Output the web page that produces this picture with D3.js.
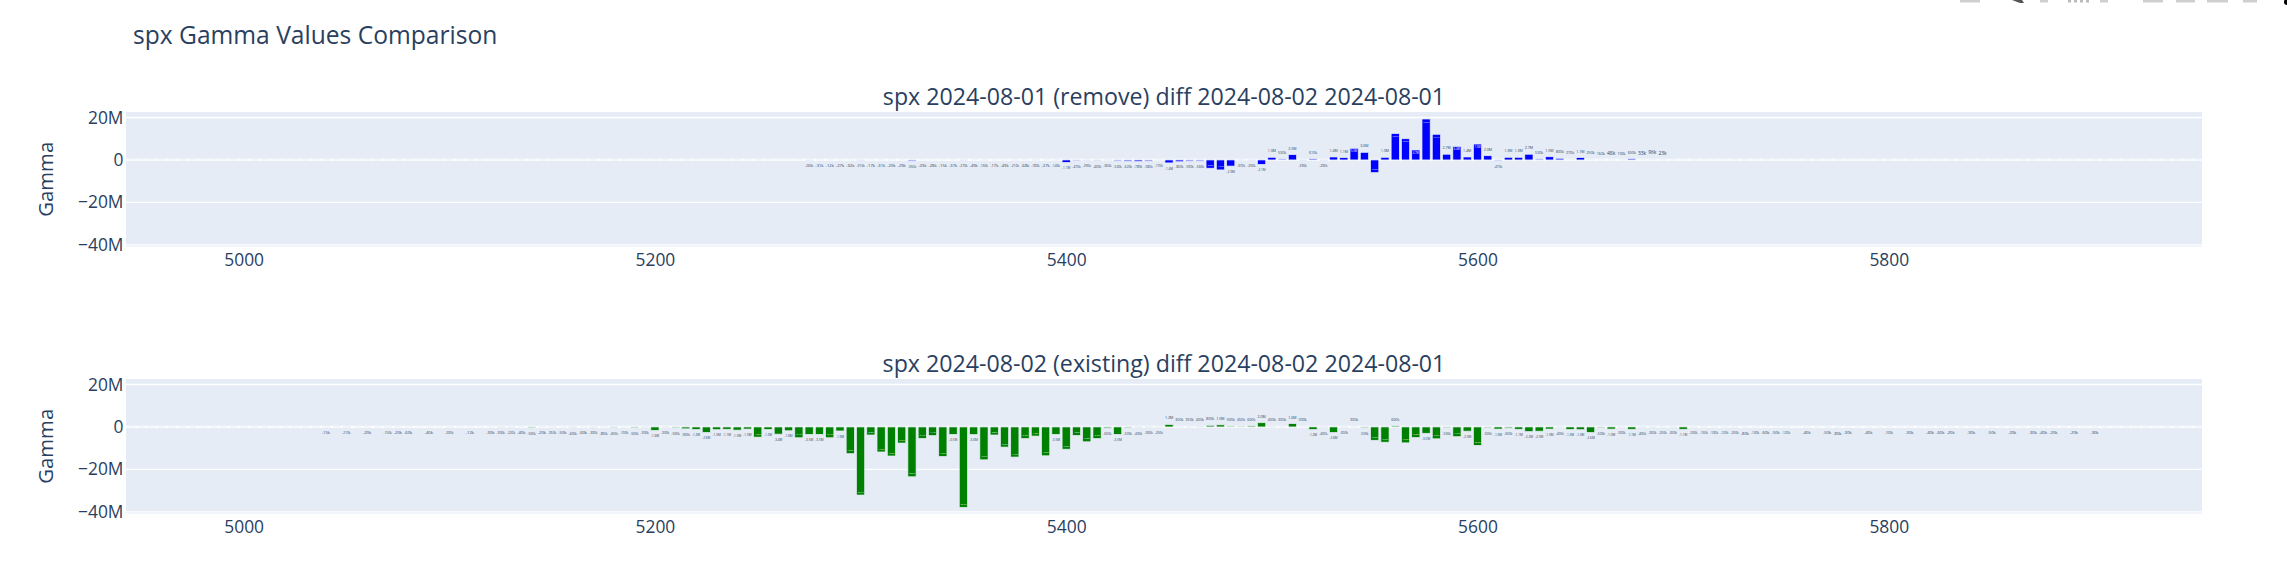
<!DOCTYPE html>
<html><head><meta charset="utf-8">
<script src="https://cdn.jsdelivr.net/npm/d3@7/dist/d3.min.js"></script>
<style>html,body{margin:0;padding:0;background:#fff;}svg{display:block;}</style>
</head><body>
<svg id="chart" width="2287" height="575"></svg>
<script>
// ---------------- DATA (gamma values in millions) ----------------
const mainTitle = "spx Gamma Values Comparison";
const subTitles = ["spx 2024-08-01 (remove) diff 2024-08-02 2024-08-01",
                   "spx 2024-08-02 (existing) diff 2024-08-02 2024-08-01"];
const yAxisTitle = "Gamma";
const xTickValues = [5000, 5200, 5400, 5600, 5800];
const yTickValues = [20, 0, -20, -40];
const yTickLabels = ["20M", "0", "\u221220M", "\u221240M"];

const topStrikes = [5275,5280,5285,5290,5295,5300,5305,5310,5315,5320,
  5325,5330,5335,5340,5345,5350,5355,5360,5365,5370,
  5375,5380,5385,5390,5395,5400,5405,5410,5415,5420,
  5425,5430,5435,5440,5445,5450,5455,5460,5465,5470,
  5475,5480,5485,5490,5495,5500,5505,5510,5515,5520,
  5525,5530,5535,5540,5545,5550,5555,5560,5565,5570,
  5575,5580,5585,5590,5595,5600,5605,5610,5615,5620,
  5625,5630,5635,5640,5645,5650,5655,5660,5665,5670,
  5675,5680,5685,5690];
const topGamma = [-0.26,-0.031,-0.012,-0.027,-0.032,-0.31,-0.017,-0.031,-0.020,-0.029,
  -0.55,-0.023,-0.028,-0.015,-0.037,-0.27,-0.049,-0.16,-0.017,-0.049,
  -0.21,-0.068,-0.18,-0.027,-0.14,-1.15,-0.47,-0.29,-0.43,-0.36,
  -0.53,-0.62,-0.78,-0.58,-0.17,-1.4,-0.86,-0.59,-0.56,-3.9,
  -4.7,-2.9,-0.37,-0.29,-2.1,1.25,0.53,2.5,-0.39,0.61,
  -0.29,1.4,1.1,5.5,3.6,-6.0,1.25,12.5,10.0,4.7,
  19.3,12.1,2.7,6.4,1.4,7.5,2.0,-0.47,1.25,1.25,
  2.7,0.53,1.5,0.8,0.27,1.1,0.25,0.16,0.048,0.1,
  0.65,0.033,0.096,0.023];

const bottomStrikes = [5040,5050,5060,5070,5075,5080,5090,5100,5110,5120,
  5125,5130,5135,5140,5145,5150,5155,5160,5165,5170,
  5175,5180,5185,5190,5195,5200,5205,5210,5215,5220,
  5225,5230,5235,5240,5245,5250,5255,5260,5265,5270,
  5275,5280,5285,5290,5295,5300,5305,5310,5315,5320,
  5325,5330,5335,5340,5345,5350,5355,5360,5365,5370,
  5375,5380,5385,5390,5395,5400,5405,5410,5415,5420,
  5425,5430,5435,5440,5445,5450,5455,5460,5465,5470,
  5475,5480,5485,5490,5495,5500,5505,5510,5515,5520,
  5525,5530,5535,5540,5545,5550,5555,5560,5565,5570,
  5575,5580,5585,5590,5595,5600,5605,5610,5615,5620,
  5625,5630,5635,5640,5645,5650,5655,5660,5665,5670,
  5675,5680,5685,5690,5695,5700,5705,5710,5715,5720,
  5725,5730,5735,5740,5745,5750,5760,5770,5775,5780,
  5790,5800,5810,5820,5825,5830,5840,5850,5860,5870,
  5875,5880,5890,5900];
const bottomGamma = [-0.015,-0.21,-0.02,-0.15,-0.02,-0.06,-0.04,-0.2,-0.012,-0.03,
  -0.3,-0.22,-0.04,-0.5,-0.02,-0.35,-0.05,-0.4,-0.06,-0.3,
  -0.08,-0.45,-0.1,-0.5,-0.3,-1.6,-0.3,-0.5,-0.9,-1.2,
  -2.6,-1.3,-1.1,-1.5,-1.0,-4.8,-1.2,-3.4,-1.8,-5.1,
  -3.5,-3.5,-5.1,-1.9,-12.6,-32.1,-3.8,-11.8,-13.7,-7.6,
  -23.5,-5.4,-4.1,-13.9,-3.5,-37.9,-3.6,-15.5,-3.8,-9.5,
  -14.2,-5.5,-4.3,-13.6,-3.5,-10.5,-4.0,-7.0,-5.5,-0.6,
  -3.5,-0.5,-0.4,-0.3,-0.25,1.2,0.3,0.35,0.4,0.8,
  1.0,0.5,0.45,0.6,2.0,0.4,0.3,1.6,0.3,-1.2,
  -0.4,-2.6,-0.3,0.3,-0.5,-6.3,-7.2,0.6,-7.5,-5.0,
  -3.0,-5.6,-0.5,-4.6,-2.0,-8.7,-0.5,-1.0,-0.6,-1.1,
  -2.2,-2.0,-1.0,-0.4,-1.2,-1.3,-2.6,-0.5,-1.0,-0.3,
  -1.1,-0.4,-0.3,-0.2,-0.3,-1.1,-0.2,-0.15,-0.1,-0.12,
  -0.2,-0.08,-0.1,-0.06,-0.05,-0.12,-0.04,-0.05,-0.08,-0.03,
  -0.04,-0.1,-0.03,-0.04,-0.06,-0.02,-0.03,-0.05,-0.02,-0.03,
  -0.04,-0.02,-0.02,-0.03];

const barColors = ["#0000ff", "#008000"];

// ---------------- LAYOUT ----------------
const FONT = '"Open Sans", verdana, arial, sans-serif';
const TXT = "#2a3f5f";
const BG = "#E5ECF6";
const plotLeft = 126, plotRight = 2202, panelH = 134.5;
const panelTops = [112, 379];
const xDomain = [4942.8, 5952.3];
const yDomain = [-40.8, 22.6];
const strikeStep = 5;

const svg = d3.select("#chart");
svg.append("rect").attr("width", 2287).attr("height", 575).attr("fill", "#fff");

// modebar remnants (top right, clipped by page edge)
const mb = svg.append("g").attr("fill", "#cfcfcf");
[[1960,20],[2040,8],[2100,8],[2143,20],[2176,19],[2207,21],[2243,14]].forEach(([x,w]) =>
  mb.append("rect").attr("x", x).attr("y", 0).attr("width", w).attr("height", 2.5));
mb.append("path").attr("d", "M2012,0 L2022,0 L2024,3 L2020,3 Z").attr("fill", "#555");
[2068,2074,2080,2086].forEach(x => mb.append("rect").attr("x", x).attr("y", 0).attr("width", 3).attr("height", 2.5).attr("fill", "#bbb"));
svg.append("circle").attr("cx", 2287).attr("cy", 2).attr("r", 3).attr("fill", "#000");

// main title
svg.append("text").attr("x", 133).attr("y", 44).attr("font-family", FONT).attr("font-size", 24.6)
  .attr("fill", TXT).text(mainTitle);

const x = d3.scaleLinear().domain(xDomain).range([plotLeft, plotRight]);
const kx = x(1) - x(0);
const bw = strikeStep * 0.8 * kx;

function fmt(v) {
  const a = Math.abs(v);
  if (a >= 1) return v.toFixed(1) + "M";
  return Math.round(v * 1000) + "k";
}

const panels = [
  {strikes: topStrikes, values: topGamma},
  {strikes: bottomStrikes, values: bottomGamma}
];

panels.forEach((p, i) => {
  const y0 = panelTops[i];
  const y = d3.scaleLinear().domain(yDomain).range([y0 + panelH, y0]);
  const g = svg.append("g");

  g.append("rect").attr("x", plotLeft).attr("y", y0).attr("width", plotRight - plotLeft)
    .attr("height", panelH).attr("fill", BG);

  // gridlines
  yTickValues.filter(v => v !== 0).forEach(v => {
    g.append("line").attr("x1", plotLeft).attr("x2", plotRight).attr("y1", y(v)).attr("y2", y(v))
      .attr("stroke", "#fff").attr("stroke-width", 1.3);
  });
  // zero line
  g.append("line").attr("x1", plotLeft).attr("x2", plotRight).attr("y1", y(0)).attr("y2", y(0))
    .attr("stroke", "#fff").attr("stroke-width", 2.2);
  const slotStart = x(xDomain[0] + strikeStep * 0.1);
  g.append("line").attr("x1", slotStart).attr("x2", plotRight).attr("y1", y(0)).attr("y2", y(0))
    .attr("stroke", BG).attr("stroke-width", 0.9).attr("stroke-opacity", 0.85)
    .attr("stroke-dasharray", `${bw.toFixed(3)} ${(strikeStep * 0.2 * kx).toFixed(3)}`);

  // axes
  const xAxis = d3.axisBottom(x).tickValues(xTickValues).tickSize(0).tickPadding(7).tickFormat(d3.format("d"));
  const xg = g.append("g").attr("transform", `translate(0,${y0 + panelH})`).call(xAxis);
  xg.select(".domain").remove();
  xg.selectAll("text").attr("font-family", FONT).attr("font-size", 17.4).attr("fill", TXT);

  const yAxis = d3.axisLeft(y).tickValues(yTickValues).tickSize(0).tickPadding(2.5)
    .tickFormat((d, j) => yTickLabels[j]);
  const yg = g.append("g").attr("transform", `translate(${plotLeft},0)`).call(yAxis);
  yg.select(".domain").remove();
  yg.selectAll("text").attr("font-family", FONT).attr("font-size", 17.4).attr("fill", TXT);

  // axis title
  g.append("text").attr("transform", `translate(52.5,${y0 + panelH / 2}) rotate(-90)`)
    .attr("text-anchor", "middle").attr("font-family", FONT).attr("font-size", 20.3)
    .attr("fill", TXT).text(yAxisTitle);

  // subplot title
  g.append("text").attr("x", (plotLeft + plotRight) / 2).attr("y", y0 - 7)
    .attr("text-anchor", "middle").attr("font-family", FONT).attr("font-size", 23.2)
    .attr("fill", TXT).text(subTitles[i]);

  // bars
  const data = p.strikes.map((s, j) => ({s, v: p.values[j]}));
  const bars = g.append("g").attr("clip-path", null);
  bars.selectAll("rect").data(data).join("rect")
    .attr("x", d => x(d.s) - bw / 2)
    .attr("y", d => Math.min(y(d.v), y(0)))
    .attr("width", bw)
    .attr("height", d => Math.abs(y(d.v) - y(0)))
    .attr("fill", barColors[i])
    .attr("stroke", BG).attr("stroke-width", 0.73)
    .attr("opacity", d => Math.min(1, Math.max(0.04, Math.abs(d.v))));

  // bar labels
  const pad = 4.3;
  const lg = g.append("g").attr("font-family", FONT).attr("text-anchor", "middle");
  data.forEach(d => {
    const h = Math.abs(y(d.v) - y(0));
    const inside = h >= 7.8;
    const t = lg.append("text").attr("font-size", 17.4).text(fmt(d.v));
    const w = t.node().getComputedTextLength();
    const fs = Math.min(17.4, 17.4 * (inside ? bw * 0.75 : bw) / w);
    t.attr("font-size", fs.toFixed(2)).attr("x", x(d.s));
    const top = Math.min(y(d.v), y(0)), bot = Math.max(y(d.v), y(0));
    let ty;
    if (!inside) {
      ty = d.v >= 0 ? top - pad - 0.2 * fs : bot + pad + 0.75 * fs;
      t.attr("fill", TXT);
    } else {
      ty = d.v >= 0 ? top + 2 + 0.75 * fs : bot - 2 - 0.2 * fs;
      t.attr("fill", "#fff");
    }
    t.attr("y", ty.toFixed(2));
  });
});
</script>
</body></html>
